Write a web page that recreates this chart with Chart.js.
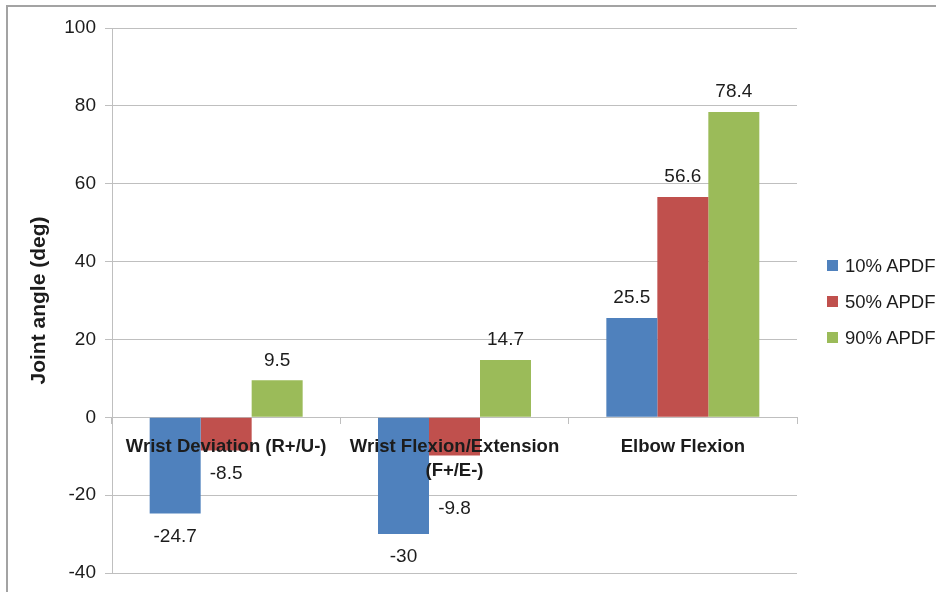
<!DOCTYPE html>
<html>
<head>
<meta charset="utf-8">
<script src="https://cdn.jsdelivr.net/npm/chart.js@4/dist/chart.umd.min.js"></script>
<style>
  html, body { margin: 0; padding: 0; background: #fff; }
  #wrap { position: relative; width: 936px; height: 592px; overflow: hidden; }
  #frame { position: absolute; left: 6px; top: 5px; right: -10px; bottom: -10px;
           border-left: 2px solid #a3a3a3; border-top: 2px solid #a3a3a3; }
  canvas { position: absolute; left: 0; top: 0; }
  #legend { position: absolute; left: 827px; top: 255px;
            font-family: "Liberation Sans", Arial, sans-serif; font-size: 18.5px; color: #1c1c1c; }
  #legend .item { height: 36px; display: flex; align-items: flex-start; white-space: nowrap; line-height: 21px; }
  #legend .box { width: 11px; height: 11px; margin-top: 5px; margin-right: 7px; flex: none; }
</style>
</head>
<body>
<div id="wrap">
  <div id="frame"></div>
  <canvas id="chart" width="936" height="592"></canvas>
  <div id="legend"></div>
</div>
<script>
// Joint angles per movement at three APDF levels
const categories = [
  'Wrist Deviation (R+/U-)',
  ['Wrist Flexion/Extension', '(F+/E-)'],
  'Elbow Flexion'
];
const seriesNames = ['10% APDF', '50% APDF', '90% APDF'];
const apdf10 = [-24.7, -30, 25.5];
const apdf50 = [-8.5, -9.8, 56.6];
const apdf90 = [9.5, 14.7, 78.4];
const yTicks = [-40, -20, 0, 20, 40, 60, 80, 100];

const colors = ['#4f81bd', '#c0504d', '#9bbb59'];
const FONT = '"Liberation Sans", Arial, sans-serif';
const TEXT = '#1c1c1c';
const GRID = '#bfbfbf';

// extra downward shift for a value label that would sit on a category label
const labelNudge = { '1-1': 30 };

const valueLabels = {
  id: 'valueLabels',
  afterDatasetsDraw(chart) {
    const ctx = chart.ctx;
    ctx.save();
    ctx.font = '19px ' + FONT;
    ctx.fillStyle = TEXT;
    ctx.textAlign = 'center';
    ctx.textBaseline = 'middle';
    chart.data.datasets.forEach((ds, di) => {
      chart.getDatasetMeta(di).data.forEach((el, i) => {
        const v = ds.data[i];
        let y = v >= 0 ? el.y - 20 : el.y + 23;
        y += labelNudge[di + '-' + i] || 0;
        ctx.fillText(String(v), el.x, y);
      });
    });
    ctx.restore();
  }
};

new Chart(document.getElementById('chart'), {
  type: 'bar',
  data: {
    labels: categories,
    datasets: [apdf10, apdf50, apdf90].map((d, k) => ({
      label: seriesNames[k],
      data: d,
      backgroundColor: colors[k],
      categoryPercentage: 0.67,
      barPercentage: 1.0
    }))
  },
  options: {
    responsive: false,
    animation: false,
    layout: { padding: { left: 0, top: 28, right: 139, bottom: 19 } },
    plugins: { legend: { display: false }, tooltip: { enabled: false } },
    scales: {
      x: {
        position: { y: 0 },
        grid: { drawOnChartArea: false, drawTicks: true, tickLength: 6, color: GRID, offset: true },
        border: { color: GRID, width: 1 },
        ticks: {
          z: 1,
          color: TEXT, maxRotation: 0, autoSkip: false, padding: 12,
          font: { family: FONT, size: 18.5, weight: 'bold', lineHeight: 1.3 }
        }
      },
      y: {
        min: -40, max: 100,
        afterFit(scale) { scale.width = 112; },
        afterBuildTicks(scale) { scale.ticks = yTicks.map(v => ({ value: v })); },
        grid: { color: GRID, tickLength: 7 },
        border: { color: GRID },
        ticks: { color: TEXT, padding: 9, font: { family: FONT, size: 19, lineHeight: 1.0 } },
        title: {
          display: true, text: 'Joint angle (deg)', color: TEXT,
          font: { family: FONT, size: 21, weight: 'bold', lineHeight: 1.2 },
          padding: { top: 27, bottom: 0 }
        }
      }
    }
  },
  plugins: [valueLabels]
});

// legend built from the same series
const legend = document.getElementById('legend');
seriesNames.forEach((name, k) => {
  const item = document.createElement('div');
  item.className = 'item';
  const box = document.createElement('span');
  box.className = 'box';
  box.style.background = colors[k];
  const txt = document.createElement('span');
  txt.textContent = name;
  item.appendChild(box);
  item.appendChild(txt);
  legend.appendChild(item);
});
</script>
</body>
</html>
